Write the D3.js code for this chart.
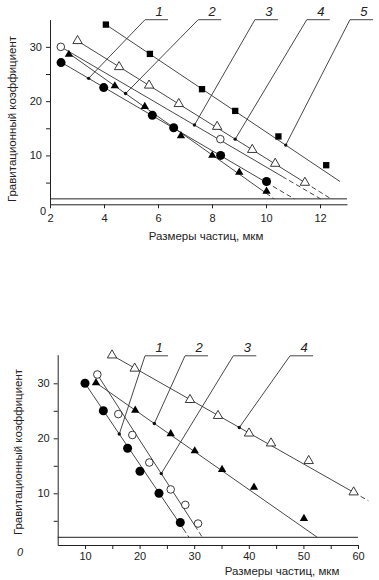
<!DOCTYPE html>
<html>
<head>
<meta charset="utf-8">
<script src="https://cdn.jsdelivr.net/npm/d3@7"></script>
<style>
body { margin: 0; background: #fff; }
text { font-family: Arial, "Liberation Sans", sans-serif; fill: #222; }
</style>
</head>
<body>
<svg id="chart" width="379" height="580"></svg>
<script>
// ---- upper panel (sizes 2..12 mkm)
var topXTicks = [2, 4, 6, 8, 10, 12];
var topYTicks = [5, 10, 15, 20, 25, 30];
var topFilledCircles = [[2.41, 27.1], [3.99, 22.5], [5.79, 17.4], [6.58, 15.1], [8.32, 10.0], [10.02, 5.2]];
var topOpenCircles = [[2.40, 30.0], [8.31, 13.0]];
var topFilledTriangles = [[2.70, 28.6], [4.40, 22.8], [5.51, 19.0], [6.85, 13.6], [8.01, 10.0], [9.01, 6.9], [10.02, 3.4]];
var topOpenTriangles = [[3.02, 31.1], [4.56, 26.3], [5.67, 22.9], [6.77, 19.5], [8.19, 15.3], [9.49, 11.05], [10.34, 8.5], [11.44, 5.0]];
var topSquares = [[4.07, 34.1], [5.70, 28.7], [7.63, 22.2], [8.86, 18.2], [10.46, 13.5], [12.23, 8.2]];
// fitted lines: x0, y0, x1, y1, x where the solid part stops (rest dashed)
var topLines = [[2.4, 27.2, 11.05, 2, 10.0], [2.7, 28.8, 10.3, 2, 10.0], [2.4, 30.0, 12.02, 2, 10.6],
                [3.02, 31.1, 12.41, 2, 11.44], [4.07, 34.1, 12.74, 5.2, 12.74]];
var topLabels = ["1", "2", "3", "4", "5"];
var topLabelDotX = [3.43, 4.80, 7.35, 8.86, 10.73];
var topLabelAnchorX = [5.52, 7.49, 9.59, 11.51, 13.11];

// ---- lower panel (sizes 10..60 mkm)
var botXTicks = [10, 15, 20, 25, 30, 35, 40, 45, 50, 55, 60];
var botYTicks = [5, 10, 15, 20, 25, 30];
var botFilledCircles = [[10, 30], [13.36, 25], [17.8, 18.2], [20.07, 14], [23.55, 10], [27.45, 4.7]];
var botOpenCircles = [[12.26, 31.6], [16.1, 24.4], [18.67, 20.6], [21.78, 15.6], [25.7, 10.7], [28.37, 7.9], [30.7, 4.5]];
var botFilledTriangles = [[12.01, 30.1], [19.2, 25.1], [25.7, 20.8], [30.1, 17.7], [35.1, 14.3], [40.95, 11.1], [50.1, 5.4]];
var botOpenTriangles = [[14.95, 35.1], [19.1, 32.7], [29.23, 27.0], [34.36, 24.1], [40.04, 20.9], [44.07, 19.1], [50.97, 15.9], [59.2, 10.2]];
var botLines = [[10, 30, 29.05, 2, 28.0], [12, 30.1, 52.55, 2, 52.55], [12.26, 31.6, 31.5, 2, 30.1],
                [14.95, 35.1, 61.9, 8.65, 59.2]];
var botLabels = ["1", "2", "3", "4"];
var botLabelDotX = [16.28, 22.7, 23.97, 38.26];
var botLabelAnchorX = [20.99, 28.32, 37.16, 47.55];

var baseLevel = 2;        // horizontal reference line
var labelLevel = 35;      // height of the numbered callouts
var yTitle = "Гравитационный коэффициент";
var xTitle = "Размеры частиц, мкм";

var svg = d3.select("#chart");

function lineY(l, x) {
  return l[1] + (l[3] - l[1]) * (x - l[0]) / (l[2] - l[0]);
}

function drawPanel(p) {
  var g = svg.append("g");
  var x = p.x, y = p.y;

  // axes
  var xAxis = g.append("g")
    .attr("transform", "translate(0," + y.range()[0] + ")")
    .call(d3.axisBottom(x).tickValues(p.xTicks).tickSize(4).tickSizeOuter(0).tickPadding(p.xPad)
      .tickFormat(function(d) { return d % p.xLabelEvery === 0 ? d : ""; }));
  var yAxis = g.append("g")
    .attr("transform", "translate(" + x.range()[0] + ",0)")
    .call(d3.axisLeft(y).tickValues(p.yTicks).tickSize(4).tickSizeOuter(0).tickPadding(4)
      .tickFormat(function(d) { return d % 10 === 0 ? d : ""; }));
  g.selectAll(".tick text").attr("font-size", 11).attr("font-family", "Arial, 'Liberation Sans', sans-serif").attr("fill", "#222");
  g.selectAll(".domain, .tick line").attr("stroke", "#222");

  // base line at y = 2
  g.append("line")
    .attr("x1", x.range()[0]).attr("x2", x.range()[1])
    .attr("y1", y(baseLevel)).attr("y2", y(baseLevel))
    .attr("stroke", "#222").attr("stroke-width", 1);

  // fitted lines
  p.lines.forEach(function(l) {
    g.append("line")
      .attr("x1", x(l[0])).attr("y1", y(l[1]))
      .attr("x2", x(l[4])).attr("y2", y(lineY(l, l[4])))
      .attr("stroke", "#333").attr("stroke-width", 0.9);
    if (l[4] < l[2]) {
      g.append("line")
        .attr("x1", x(l[4])).attr("y1", y(lineY(l, l[4])))
        .attr("x2", x(l[2])).attr("y2", y(l[3]))
        .attr("stroke", "#333").attr("stroke-width", 0.9)
        .attr("stroke-dasharray", "5,3");
    }
  });

  // numbered callouts
  p.labels.forEach(function(t, i) {
    var l = p.lines[i];
    var dx = x(p.labelDotX[i]), dy = y(lineY(l, p.labelDotX[i]));
    var ax = x(p.labelAnchorX[i]), ay = y(labelLevel);
    g.append("line").attr("x1", dx).attr("y1", dy).attr("x2", ax).attr("y2", ay)
      .attr("stroke", "#333").attr("stroke-width", 0.9);
    g.append("line").attr("x1", ax).attr("y1", ay).attr("x2", ax + 23).attr("y2", ay)
      .attr("stroke", "#333").attr("stroke-width", 0.9);
    g.append("circle").attr("cx", dx).attr("cy", dy).attr("r", 1.7).attr("fill", "#111");
    g.append("text").attr("x", ax + 14).attr("y", ay - 4)
      .attr("text-anchor", "middle").attr("font-size", 13).attr("font-style", "italic")
      .text(t);
  });

  // markers
  g.selectAll(".fc").data(p.filledCircles).enter().append("circle")
    .attr("cx", function(d) { return x(d[0]); }).attr("cy", function(d) { return y(d[1]); })
    .attr("r", 4.5).attr("fill", "#000");
  g.selectAll(".oc").data(p.openCircles).enter().append("circle")
    .attr("cx", function(d) { return x(d[0]); }).attr("cy", function(d) { return y(d[1]); })
    .attr("r", 3.8).attr("fill", "#fff").attr("stroke", "#222").attr("stroke-width", 0.9);
  var tri = d3.symbol().type(d3.symbolTriangle);
  g.selectAll(".ft").data(p.filledTriangles).enter().append("path")
    .attr("d", tri.size(30)())
    .attr("transform", function(d) { return "translate(" + x(d[0]) + "," + y(d[1]) + ")"; })
    .attr("fill", "#000");
  g.selectAll(".ot").data(p.openTriangles).enter().append("path")
    .attr("d", tri.size(38)())
    .attr("transform", function(d) { return "translate(" + x(d[0]) + "," + y(d[1]) + ")"; })
    .attr("fill", "#fff").attr("stroke", "#222").attr("stroke-width", 0.9);
  if (p.squares) {
    g.selectAll(".sq").data(p.squares).enter().append("path")
      .attr("d", d3.symbol().type(d3.symbolSquare).size(40)())
      .attr("transform", function(d) { return "translate(" + x(d[0]) + "," + y(d[1]) + ")"; })
      .attr("fill", "#000");
  }

  // titles and the "0" corner mark
  g.append("text")
    .attr("transform", "translate(" + p.yTitlePos[0] + "," + p.yTitlePos[1] + ") rotate(-90)")
    .attr("text-anchor", "middle").attr("font-size", 11.5).text(yTitle);
  g.append("text").attr("x", p.xTitlePos[0]).attr("y", p.xTitlePos[1])
    .attr("text-anchor", "middle").attr("font-size", 11.5).text(xTitle);
  g.append("text").attr("x", p.zeroPos[0]).attr("y", p.zeroPos[1])
    .attr("text-anchor", "middle").attr("font-size", 11)
    .attr("font-style", p.zeroItalic ? "italic" : "normal")
    .attr("fill", p.zeroItalic ? "#555" : "#222")
    .text("0");
}

drawPanel({
  x: d3.scaleLinear().domain([2, 13]).range([50, 347]),
  y: d3.scaleLinear().domain([1, 35]).range([204.3, 19.7]),
  xTicks: topXTicks, yTicks: topYTicks, xLabelEvery: 2, xPad: 6,
  filledCircles: topFilledCircles, openCircles: topOpenCircles,
  filledTriangles: topFilledTriangles, openTriangles: topOpenTriangles, squares: topSquares,
  lines: topLines, labels: topLabels, labelDotX: topLabelDotX, labelAnchorX: topLabelAnchorX,
  yTitlePos: [16, 119], xTitlePos: [206, 240], zeroPos: [43, 215], zeroItalic: false
});

drawPanel({
  x: d3.scaleLinear().domain([5, 60]).range([57.7, 358]),
  y: d3.scaleLinear().domain([0.6, 35.2]).range([545, 354.7]),
  xTicks: botXTicks, yTicks: botYTicks, xLabelEvery: 10, xPad: 3,
  filledCircles: botFilledCircles, openCircles: botOpenCircles,
  filledTriangles: botFilledTriangles, openTriangles: botOpenTriangles, squares: null,
  lines: botLines, labels: botLabels, labelDotX: botLabelDotX, labelAnchorX: botLabelAnchorX,
  yTitlePos: [22, 452], xTitlePos: [282, 575], zeroPos: [20, 556], zeroItalic: true
});
</script>
</body>
</html>
